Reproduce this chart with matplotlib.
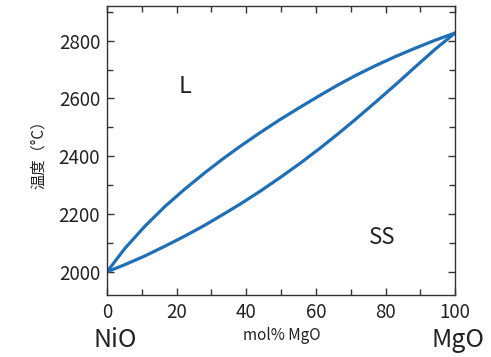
import matplotlib
matplotlib.use("Agg")
import matplotlib.pyplot as plt
from matplotlib.ticker import MultipleLocator

plt.rcParams['font.family'] = ['Noto Sans CJK JP', 'DejaVu Sans']

# --- data (mol% MgO vs temperature in C) ---
mol_mgo = [0, 5.2, 10.9, 16.7, 22.4, 28.2, 33.4, 38.2, 44, 49.7,
           55.5, 61.2, 66.5, 71.3, 77, 82.8, 88.5, 94.3, 100]
liquidus = [2000, 2082, 2158, 2227, 2287, 2344, 2392, 2434, 2482, 2527,
            2570, 2611, 2648, 2679, 2713, 2745, 2774, 2802, 2827]
solidus = [2000, 2025, 2055, 2089, 2124, 2162, 2199, 2234, 2279, 2326,
           2376, 2428, 2479, 2527, 2586, 2647, 2709, 2771, 2827]

line_color = '#1f6fb8'
text_color = '#222222'

fig = plt.figure(figsize=(4.91, 3.57), dpi=100)
ax = fig.add_axes([0.218, 0.174, 0.709, 0.809])

ax.plot(mol_mgo, liquidus, color=line_color, linewidth=2.3,
        solid_capstyle='round', solid_joinstyle='round')
ax.plot(mol_mgo, solidus, color=line_color, linewidth=2.3,
        solid_capstyle='round', solid_joinstyle='round')

ax.set_xlim(0, 100)
ax.set_ylim(1920, 2920)
ax.xaxis.set_major_locator(MultipleLocator(20))
ax.xaxis.set_minor_locator(MultipleLocator(10))
ax.yaxis.set_major_locator(MultipleLocator(200))
ax.yaxis.set_minor_locator(MultipleLocator(100))
ax.tick_params(which='both', direction='in', top=True, right=True,
               color='#333333', width=1.0)
ax.tick_params(which='major', length=5, labelsize=13.5, pad=5, labelcolor=text_color)
ax.tick_params(which='minor', length=4)
for s in ax.spines.values():
    s.set_color('#333333')
    s.set_linewidth(1.0)

# phase region labels
ax.text(22.5, 2640, 'L', fontsize=17, ha='center', va='center', color=text_color)
ax.text(79, 2118, 'SS', fontsize=16, ha='center', va='center', color=text_color)

ax.set_ylabel('温度（°C）', fontsize=11, color=text_color, labelpad=8)

# end-member names and axis title below the x axis
fig.text(115 / 491, 1 - 340 / 357, 'NiO', fontsize=18, ha='center', va='center', color=text_color)
fig.text(282 / 491, 1 - 335 / 357, 'mol% MgO', fontsize=11, ha='center', va='center', color=text_color)
fig.text(458 / 491, 1 - 340 / 357, 'MgO', fontsize=18, ha='center', va='center', color=text_color)

fig.savefig('out.png', dpi=100)
